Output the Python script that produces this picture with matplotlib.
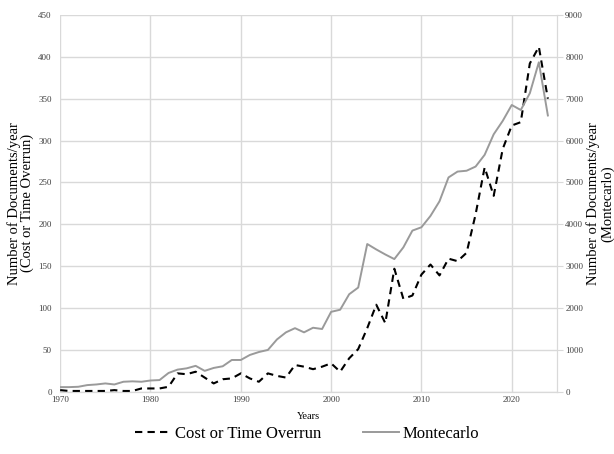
import numpy as np
import matplotlib
matplotlib.use("Agg")
import matplotlib.pyplot as plt

plt.rcParams['font.family'] = ['Liberation Serif', 'DejaVu Serif']

# =========================
# Data
# =========================

years = list(range(1970, 2025))

cost_overrun = [
    2, 1, 1, 1, 1, 1, 2, 1, 1, 4,
    4, 4, 6, 22, 21, 24, 17, 10, 15, 16,
    22, 16, 12, 22, 19, 17, 32, 30, 27, 30,
    34, 24, 40, 51, 76, 104, 82, 147, 111, 115,
    140, 152, 139, 159, 156, 166, 212, 268, 234, 290,
    318, 322, 392, 412, 350,
]

montecarlo = [
    112, 112, 120, 160, 175, 200, 175, 240, 250, 240,
    270, 280, 450, 530, 560, 620, 500, 570, 610, 760,
    760, 880, 950, 1000, 1250, 1420, 1520, 1420, 1530, 1500,
    1910, 1960, 2330, 2490, 3530, 3400, 3280, 3170, 3450, 3850,
    3930, 4200, 4550, 5120, 5260, 5280, 5380, 5660, 6150, 6470,
    6850, 6730, 7130, 7870, 6600,
]

left_ticks = [0, 50, 100, 150, 200, 250, 300, 350, 400, 450]
right_ticks = [0, 1000, 2000, 3000, 4000, 5000, 6000, 7000, 8000, 9000]
x_ticks = [1970, 1980, 1990, 2000, 2010, 2020]

# =========================
# Plot
# =========================

fig = plt.figure(figsize=(6.14, 4.54), dpi=100)
ax = fig.add_axes([0.098, 0.137, 0.809, 0.830])
ax2 = ax.twinx()

grid_color = "#d9d9d9"

ax.plot(years, cost_overrun, color="black", linestyle=(0, (3.5, 2.5)),
        linewidth=1.5, label="Cost or Time Overrun", zorder=3)
ax2.plot(years, montecarlo, color="#9a9a9a", linewidth=1.4,
         label="Montecarlo", zorder=2)

ax.set_xlim(1970, 2025)
ax.set_ylim(0, 450)
ax2.set_ylim(0, 9000)
ax.set_xticks(x_ticks)
ax.set_yticks(left_ticks)
ax2.set_yticks(right_ticks)

ax.grid(True, color=grid_color, linewidth=1.0)
ax.set_axisbelow(True)

for a in (ax, ax2):
    for side in ("top", "left"):
        a.spines[side].set_visible(False)
    a.spines["bottom"].set_color(grid_color)
    a.spines["right"].set_color(grid_color)
    a.tick_params(labelsize=6.5, colors="#404040", length=0, pad=3)
ax.tick_params(axis="y", pad=6)
ax2.tick_params(axis="y", length=4, color=grid_color, pad=2)

ax.set_xlabel("Years", fontsize=7.5, labelpad=6)
ax.set_ylabel("Number of Documents/year\n(Cost or Time Overrun)", fontsize=10.5,
              linespacing=1.0)
ax.yaxis.set_label_coords(-0.052, 0.5)
ax2.set_ylabel("Number of Documents/year\n(Montecarlo)", fontsize=10.5,
               linespacing=1.0)
ax2.yaxis.set_label_coords(1.06, 0.5)

h1, l1 = ax.get_legend_handles_labels()
h2, l2 = ax2.get_legend_handles_labels()
fig.legend(h1 + h2, l1 + l2, loc="center", bbox_to_anchor=(0.5, 0.045),
           ncol=2, frameon=False, fontsize=12, handlelength=2.2,
           handletextpad=0.2, columnspacing=2.5)

fig.savefig("out.png", dpi=100)
